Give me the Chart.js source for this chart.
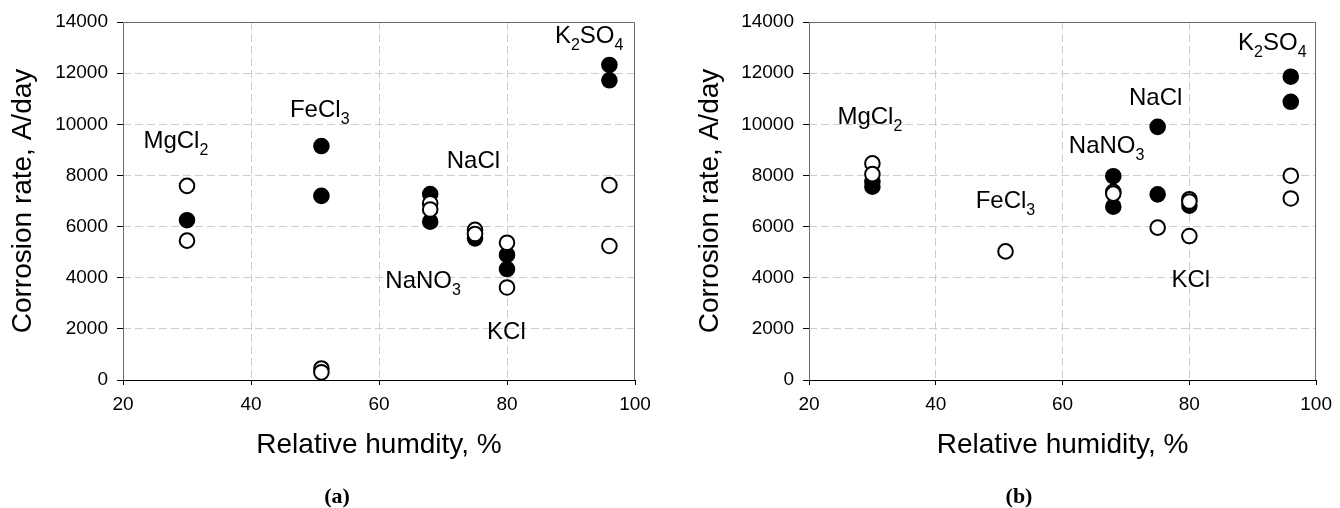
<!DOCTYPE html>
<html>
<head>
<meta charset="utf-8">
<script src="https://cdn.jsdelivr.net/npm/chart.js@4.4.1/dist/chart.umd.min.js"></script>
<style>
  html, body { margin: 0; padding: 0; background: #fff; }
  #wrap { position: relative; width: 1340px; height: 508px; overflow: hidden; }
  canvas { position: absolute; top: 0; }
  .cap { position: absolute; font-family: "Liberation Serif", "Times New Roman", serif; font-weight: bold; font-size: 22px; line-height: 22px; color: #000; transform: translateX(-50%); }
</style>
</head>
<body>
<div id="wrap">
  <canvas id="ca" width="670" height="508" style="left:0px"></canvas>
  <canvas id="cb" width="670" height="508" style="left:670px"></canvas>
  <div class="cap" style="left:337px; top:485px">(a)</div>
  <div class="cap" style="left:1019px; top:485px">(b)</div>
</div>
<script>
// ---------- data: panel (a) ----------
const rhA_filled   = [30, 51, 51, 68, 68, 75, 80, 80, 96, 96];
const rateA_filled = [6250, 9150, 7200, 7270, 6190, 5540, 4890, 4340, 12320, 11720];
const rhA_open     = [30, 30, 51, 51, 68, 68, 75, 75, 80, 80, 96, 96];
const rateA_open   = [7590, 5450, 450, 300, 6910, 6670, 5870, 5710, 5370, 3620, 7620, 5240];

// ---------- data: panel (b) ----------
const rhB_filled   = [30, 30, 68, 68, 75, 75, 80, 96, 96];
const rateB_filled = [7750, 7560, 7970, 6780, 9900, 7260, 6820, 11860, 10880];
const rhB_open     = [30, 30, 51, 68, 68, 75, 80, 80, 80, 96, 96];
const rateB_open   = [8470, 8050, 5030, 7360, 7290, 5960, 7070, 6980, 5630, 7990, 7100];

// ---------- axis ticks ----------
const xTicks = [20, 40, 60, 80, 100];
const yTicks = [0, 2000, 4000, 6000, 8000, 10000, 12000, 14000];

// ---------- salt labels (text, RH, rate at label baseline) ----------
const saltNames = ['MgCl_2', 'FeCl_3', 'NaCl', 'NaNO_3', 'KCl', 'K_2SO_4'];
const labelRhA   = [23.5, 46.4, 70.9, 61.3, 77.2, 87.8];
const labelRateA = [9060, 10295, 8277, 3585, 1591, 13165];
const labelSaltsB = ['MgCl_2', 'FeCl_3', 'NaNO_3', 'NaCl', 'KCl', 'K_2SO_4'];
const labelRhB   = [24.8, 46.6, 61.3, 70.8, 77.5, 88.0];
const labelRateB = [10010, 6713, 8864, 10753, 3648, 12903];

const FONT = '"Liberation Sans", Arial, Helvetica, sans-serif';

function pts(xs, ys) { return xs.map((x, i) => ({x: x, y: ys[i]})); }

const framePlugin = {
  id: 'frame',
  beforeDatasetsDraw(chart) {
    const {ctx, chartArea: a} = chart;
    const L = Math.round(a.left) + 0.5, R = Math.round(a.right) - 0.5;
    const T = Math.round(a.top) + 0.5, B = Math.round(a.bottom) + 0.5;
    ctx.save();
    ctx.lineWidth = 1;
    ctx.strokeStyle = '#6a6a6a';
    ctx.beginPath();
    ctx.moveTo(L, B); ctx.lineTo(L, T); ctx.lineTo(R, T); ctx.lineTo(R, B);
    ctx.stroke();
    ctx.strokeStyle = '#000';
    ctx.beginPath();
    ctx.moveTo(L - 0.5, B); ctx.lineTo(R + 0.5, B);
    ctx.stroke();
    ctx.restore();
  }
};

const saltLabelPlugin = {
  id: 'saltLabels',
  afterDatasetsDraw(chart, args, opts) {
    const {ctx} = chart;
    const xs = chart.scales.x, ys = chart.scales.y;
    ctx.save();
    ctx.fillStyle = '#000';
    ctx.textBaseline = 'alphabetic';
    ctx.textAlign = 'left';
    opts.names.forEach((name, i) => {
      let px = xs.getPixelForValue(opts.rh[i]) - 2;
      const py = ys.getPixelForValue(opts.rate[i]);
      const parts = name.split('_');
      parts.forEach((part, j) => {
        let main = part, sub = '';
        if (j > 0) { sub = part.charAt(0); main = part.slice(1); }
        if (sub) {
          ctx.font = '16px ' + FONT;
          ctx.fillText(sub, px, py + 7);
          px += ctx.measureText(sub).width;
        }
        if (main) {
          ctx.font = '24px ' + FONT;
          ctx.fillText(main, px, py);
          px += ctx.measureText(main).width;
        }
      });
    });
    ctx.restore();
  }
};

function makeChart(id, openX, openY, filledX, filledY, names, lrh, lrate, xTitle, padLeft, yWidth, padRight) {
  const gridColor = (lo, hi) => (c) => (c.tick && (c.tick.value === lo || c.tick.value === hi)) ? 'rgba(0,0,0,0)' : '#cdcdcd';
  return new Chart(document.getElementById(id), {
    type: 'scatter',
    data: {
      datasets: [
        { data: pts(openX, openY), pointRadius: 7.3, pointBorderWidth: 2, pointBackgroundColor: '#fff', pointBorderColor: '#000', clip: false },
        { data: pts(filledX, filledY), pointRadius: 7.3, pointBorderWidth: 2, pointBackgroundColor: '#000', pointBorderColor: '#000', clip: false }
      ]
    },
    options: {
      responsive: false,
      animation: false,
      devicePixelRatio: 1,
      events: [],
      layout: { padding: { left: padLeft, right: padRight, top: 22, bottom: 45.8 } },
      plugins: {
        legend: { display: false },
        tooltip: { enabled: false },
        saltLabels: { names: names, rh: lrh, rate: lrate }
      },
      scales: {
        x: {
          type: 'linear', min: xTicks[0], max: xTicks[xTicks.length - 1],
          afterBuildTicks: (s) => { s.ticks = xTicks.map(v => ({value: v})); },
          afterFit: (s) => { s.height = 82.2; },
          ticks: { color: '#000', font: { family: FONT, size: 19 }, padding: 8, maxRotation: 0, callback: (v) => String(v) },
          grid: { color: gridColor(20, 100), lineWidth: 1, tickLength: 5, tickColor: '#000', tickWidth: 1, tickBorderDash: [] },
          border: { display: false, dash: [8, 4] },
          title: { display: true, text: xTitle, color: '#000', font: { family: FONT, size: 28 }, padding: 0 }
        },
        y: {
          type: 'linear', min: yTicks[0], max: yTicks[yTicks.length - 1],
          afterBuildTicks: (s) => { s.ticks = yTicks.map(v => ({value: v})); },
          afterFit: (s) => { s.width = yWidth; },
          ticks: { color: '#000', font: { family: FONT, size: 19 }, padding: 9, callback: (v) => String(v) },
          grid: { color: gridColor(0, 14000), lineWidth: 1, tickLength: 6, tickColor: '#000', tickWidth: 1, tickBorderDash: [] },
          border: { display: false, dash: [8, 4] },
          title: { display: true, text: 'Corrosion rate, A/day', color: '#000', font: { family: FONT, size: 28 }, padding: 0 }
        }
      }
    },
    plugins: [framePlugin, saltLabelPlugin]
  });
}

makeChart('ca', rhA_open, rateA_open, rhA_filled, rateA_filled, saltNames, labelRhA, labelRateA,
          'Relative humdity, %', 6, 117, 35);
makeChart('cb', rhB_open, rateB_open, rhB_filled, rateB_filled, labelSaltsB, labelRhB, labelRateB,
          'Relative humidity, %', 23.5, 115.5, 19);
</script>
</body>
</html>
